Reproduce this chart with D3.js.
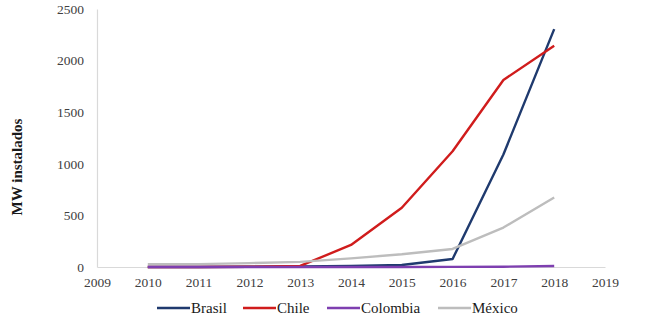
<!DOCTYPE html>
<html>
<head>
<meta charset="utf-8">
<script src="https://cdn.jsdelivr.net/npm/d3@7"></script>
<style>
  body { margin: 0; background: #fff; }
  text { font-family: "Liberation Serif", "Times New Roman", serif; }
</style>
</head>
<body>
<div id="chart"></div>
<script>
// data
const years = [2010, 2011, 2012, 2013, 2014, 2015, 2016, 2017, 2018];
const brasil = [0, 0, 2, 5, 10, 20, 78, 1090, 2305];
const chile = [0, 0, 3, 10, 214, 574, 1121, 1812, 2143];
const colombia = [0, 0, 0, 0, 0, 0, 1, 3, 10];
const mexico = [26, 28, 38, 50, 84, 123, 175, 382, 674];
const yTicks = [0, 500, 1000, 1500, 2000, 2500];
const xTicks = [2009, 2010, 2011, 2012, 2013, 2014, 2015, 2016, 2017, 2018, 2019];

const series = [
    { name: "Brasil", values: brasil, color: "#1f3a6e" },
    { name: "Chile", values: chile, color: "#d01c1c" },
    { name: "Colombia", values: colombia, color: "#7e3fb0" },
    { name: "México", values: mexico, color: "#bdbdbd" }
];

const width = 664;
const height = 326;
const margin = { top: 9, right: 59, bottom: 59, left: 97 };

const svg = d3.select("#chart")
    .append("svg")
        .attr("width", width)
        .attr("height", height);

const x = d3.scaleLinear()
    .domain([2009, 2019])
    .range([margin.left, width - margin.right]);

const y = d3.scaleLinear()
    .domain([0, 2500])
    .range([height - margin.bottom, margin.top]);

//axes
const xAxis = svg.append("g")
    .attr("transform", `translate(0, ${height - margin.bottom})`)
    .call(d3.axisBottom(x).tickValues(xTicks).tickFormat(d3.format("d")).tickSize(0).tickPadding(10));

const yAxis = svg.append("g")
    .attr("transform", `translate(${margin.left}, 0)`)
    .call(d3.axisLeft(y).tickValues(yTicks).tickFormat(d3.format("d")).tickSize(0).tickPadding(13));

[xAxis, yAxis].forEach(a => {
    a.attr("font-family", null).attr("font-size", null);
    a.select(".domain").attr("stroke", "#d9d9d9").attr("stroke-width", 1.2);
    a.selectAll("text")
        .attr("fill", "#404040")
        .style("font-family", "'Liberation Serif', 'Times New Roman', serif")
        .style("font-size", "13.5px");
});

//y label
svg.append("text")
    .attr("transform", "translate(22, 167) rotate(-90)")
    .attr("text-anchor", "middle")
    .attr("fill", "#1a1a1a")
    .style("font-size", "15px")
    .style("font-weight", "bold")
    .text("MW instalados");

//lines
const line = d3.line()
    .x((d, i) => x(years[i]))
    .y(d => y(d));

svg.selectAll(".series")
    .data(series)
    .enter()
    .append("path")
        .attr("class", "series")
        .attr("d", d => line(d.values))
        .attr("fill", "none")
        .attr("stroke", d => d.color)
        .attr("stroke-width", 2.4)
        .attr("stroke-linejoin", "round");

// colombia sits on top near zero, like in the reference
svg.selectAll(".series").filter(d => d.name === "Colombia").raise();

//legend
const legendX = [157, 243, 327, 438];
const legend = svg.selectAll(".legend")
    .data(series)
    .enter()
    .append("g")
        .attr("class", "legend")
        .attr("transform", (d, i) => `translate(${legendX[i]}, 308)`);

legend.append("line")
    .attr("x1", 0)
    .attr("x2", 33)
    .attr("stroke", d => d.color)
    .attr("stroke-width", 2.4);

legend.append("text")
    .attr("x", 34)
    .attr("dy", "0.35em")
    .attr("fill", "#1a1a1a")
    .style("font-size", "15px")
    .text(d => d.name);
</script>
</body>
</html>
